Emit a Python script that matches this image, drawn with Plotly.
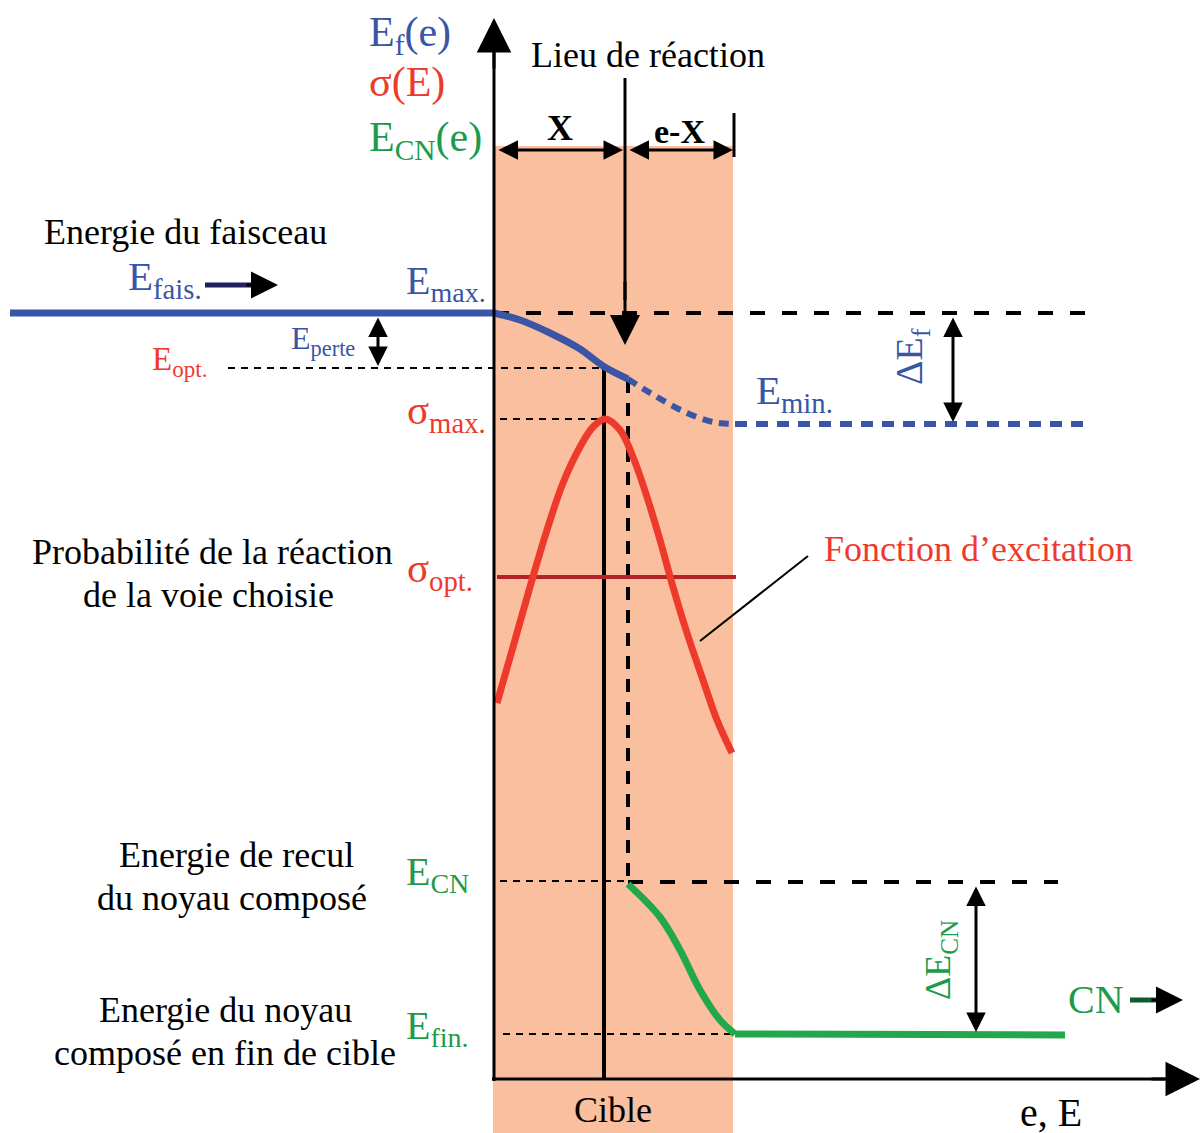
import plotly.graph_objects as go

# dimensions de la figure (coordonnées en pixels, y vers le bas)
W, H = 1200, 1133

# couleurs
BLUE = '#3B55A6'
RED = '#EE3A2C'
DARKRED = '#B5232A'
GREEN_TXT = '#1E9A4B'
GREEN = '#22A84A'
SALMON = '#F9BF9E'
FONT = 'Liberation Serif'

# cible
target_x = [493, 733]
target_y = [146, 1133]

# axes
axis_v_x = [494, 494]
axis_v_y = [1081, 50]
axis_h_x = [492, 1165]
axis_h_y = [1079, 1079]

# énergie du faisceau E_f(e)
beam_x = [10, 494]
beam_y = [313, 313]
ef_solid_x = [494, 520, 550, 580, 603, 628]
ef_solid_y = [313, 320, 333, 349, 366, 379]
ef_dot_x = [628, 657, 687, 713, 735]
ef_dot_y = [379, 397, 413, 422, 424]
emin_x = [735, 1085]
emin_y = [424, 424]

# fonction d'excitation sigma(E)
sigma_x = [497, 513, 530, 547, 563, 580, 593, 605, 620, 633, 647, 660, 673, 687, 703, 717, 732]
sigma_y = [703, 647, 587, 530, 483, 447, 427, 419, 430, 457, 497, 540, 587, 633, 680, 720, 753]
sopt_x = [497, 736]
sopt_y = [577, 577]

# énergie du noyau composé E_CN(e)
ecn_x = [628, 660, 680, 700, 720, 735]
ecn_y = [884, 917, 950, 990, 1020, 1034]
efin_x = [735, 1065]
efin_y = [1034, 1035]

# lignes pointillées noires
dash_thick = [
    ([494, 1085], [313, 313]),
    ([628, 1058], [882, 882]),
]
dash_thin = [
    ([228, 603], [368, 368]),
    ([500, 603], [419, 419]),
    ([500, 628], [881, 881]),
    ([503, 735], [1034, 1034]),
]
react_dash_x = [628, 628]
react_dash_y = [380, 880]
react_x = [604, 604]
react_y = [368, 1080]
callout_x = [700, 808]
callout_y = [641, 556]
ex_tick_x = [734, 734]
ex_tick_y = [113, 157]
lieu_x = [625, 625]
lieu_y = [78, 300]
fais_x = [205, 255]
fais_y = [285, 285]
cn_x = [1130, 1160]
cn_y = [1000, 1000]

# flèches simples (pointe, queue, taille)
arrows = [
    ((494, 18), (494, 70), 2.3),
    ((1200, 1079), (1150, 1079), 2.3),
    ((625, 345), (625, 280), 2.0),
    ((278, 285), (245, 285), 1.8),
    ((1183, 1000), (1150, 1000), 1.8),
]
# flèches doubles (début, fin)
double_arrows = [
    ((497, 150), (623, 150)),
    ((628, 150), (733, 150)),
    ((378, 316), (378, 366)),
    ((953, 316), (953, 422)),
    ((976, 885), (976, 1032)),
]

# textes : (x, y, texte, couleur, taille, ancrage)
labels = [
    (367, 35, 'E<sub>f</sub>(e)', BLUE, 42, 'left'),
    (367, 82, 'σ(E)', RED, 42, 'left'),
    (367, 140, 'E<sub>CN</sub>(e)', GREEN_TXT, 42, 'left'),
    (648, 55, 'Lieu de réaction', 'black', 36, 'center'),
    (560, 128, '<b>X</b>', 'black', 36, 'center'),
    (679, 131, '<b>e-X</b>', 'black', 34, 'center'),
    (185, 232, 'Energie du faisceau', 'black', 36, 'center'),
    (126, 279, 'E<sub>fais.</sub>', BLUE, 41, 'left'),
    (404, 283, 'E<sub>max.</sub>', BLUE, 40, 'left'),
    (289, 340, 'E<sub>perte</sub>', BLUE, 32, 'left'),
    (150, 361, 'E<sub>opt.</sub>', RED, 33, 'left'),
    (405, 413, 'σ<sub>max.</sub>', RED, 41, 'left'),
    (754, 393, 'E<sub>min.</sub>', BLUE, 41, 'left'),
    (212, 552, 'Probabilité de la réaction', 'black', 36, 'center'),
    (208, 595, 'de la voie choisie', 'black', 36, 'center'),
    (405, 571, 'σ<sub>opt.</sub>', RED, 41, 'left'),
    (978, 549, 'Fonction d’excitation', RED, 36, 'center'),
    (236, 855, 'Energie de recul', 'black', 36, 'center'),
    (232, 898, 'du noyau composé', 'black', 36, 'center'),
    (404, 874, 'E<sub>CN</sub>', GREEN_TXT, 40, 'left'),
    (225, 1010, 'Energie du noyau', 'black', 36, 'center'),
    (225, 1053, 'composé en fin de cible', 'black', 36, 'center'),
    (404, 1028, 'E<sub>fin.</sub>', GREEN_TXT, 40, 'left'),
    (1066, 999, 'CN', GREEN_TXT, 40, 'left'),
    (613, 1110, 'Cible', 'black', 36, 'center'),
    (1018, 1112, 'e, E', 'black', 40, 'left'),
]
rot_labels = [
    (912, 357, 'ΔE<sub>f</sub>', BLUE, 38),
    (940, 960, 'ΔE<sub>CN</sub>', GREEN_TXT, 36),
]

fig = go.Figure()


def add_line(x, y, color='black', width=3, dash=None, shape='linear'):
    fig.add_trace(go.Scatter(
        x=x, y=y, mode='lines',
        line=dict(color=color, width=width, dash=dash, shape=shape),
        hoverinfo='skip', showlegend=False
    ))


# fond de la cible
fig.add_trace(go.Scatter(
    x=[target_x[0], target_x[1], target_x[1], target_x[0], target_x[0]],
    y=[target_y[0], target_y[0], target_y[1], target_y[1], target_y[0]],
    mode='lines', fill='toself', fillcolor=SALMON,
    line=dict(width=0, color=SALMON), hoverinfo='skip', showlegend=False
))

# lignes de repère
for xs, ys in dash_thin:
    add_line(xs, ys, width=2, dash='7px,6px')
for xs, ys in dash_thick:
    add_line(xs, ys, width=4, dash='15px,17px')
add_line(react_dash_x, react_dash_y, width=4, dash='13px,10px')
add_line(react_x, react_y, width=4)
add_line(callout_x, callout_y, width=2)
add_line(ex_tick_x, ex_tick_y, width=3)
add_line(lieu_x, lieu_y, width=3)
add_line(fais_x, fais_y, color='#231F5C', width=5)
add_line(cn_x, cn_y, color='#0F5A2E', width=5)

# courbes
add_line(beam_x, beam_y, color=BLUE, width=7)
add_line(ef_solid_x, ef_solid_y, color=BLUE, width=7, shape='spline')
add_line(ef_dot_x, ef_dot_y, color=BLUE, width=6, dash='10px,7px', shape='spline')
add_line(emin_x, emin_y, color=BLUE, width=6, dash='12px,9px')
add_line(sopt_x, sopt_y, color=DARKRED, width=4)
add_line(sigma_x, sigma_y, color=RED, width=7, shape='spline')
add_line(ecn_x, ecn_y, color=GREEN, width=7, shape='spline')
add_line(efin_x, efin_y, color=GREEN, width=7)

# axes
add_line(axis_v_x, axis_v_y, width=3)
add_line(axis_h_x, axis_h_y, width=3)

# flèches
for (hx, hy), (tx, ty), size in arrows:
    fig.add_annotation(
        x=hx, y=hy, ax=tx, ay=ty, xref='x', yref='y', axref='x', ayref='y',
        text='', showarrow=True, arrowhead=2, arrowsize=size, arrowwidth=3,
        arrowcolor='black', standoff=0
    )
for (sx, sy), (ex, ey) in double_arrows:
    fig.add_annotation(
        x=ex, y=ey, ax=sx, ay=sy, xref='x', yref='y', axref='x', ayref='y',
        text='', showarrow=True, arrowhead=2, startarrowhead=2,
        arrowside='end+start', arrowsize=1.3, startarrowsize=1.3,
        arrowwidth=3, arrowcolor='black', standoff=0, startstandoff=0
    )

# textes
for x, y, txt, col, size, anchor in labels:
    fig.add_annotation(
        x=x, y=y, xref='x', yref='y', text=txt, showarrow=False,
        xanchor=anchor, yanchor='middle',
        font=dict(family=FONT, size=size, color=col)
    )
for x, y, txt, col, size in rot_labels:
    fig.add_annotation(
        x=x, y=y, xref='x', yref='y', text=txt, showarrow=False,
        textangle=-90, xanchor='center', yanchor='middle',
        font=dict(family=FONT, size=size, color=col)
    )

fig.update_layout(
    width=W, height=H,
    margin=dict(l=0, r=0, t=0, b=0),
    paper_bgcolor='white', plot_bgcolor='white',
    font=dict(family=FONT, size=36, color='black'),
    showlegend=False,
    xaxis=dict(range=[0, W], visible=False, fixedrange=True),
    yaxis=dict(range=[H, 0], visible=False, fixedrange=True),
)

# la page n'a pas de marge, pour que la figure remplisse la fenêtre
fig.write_html(
    "out.html",
    config={'displayModeBar': False},
    post_script="document.body.style.margin='0';",
)
